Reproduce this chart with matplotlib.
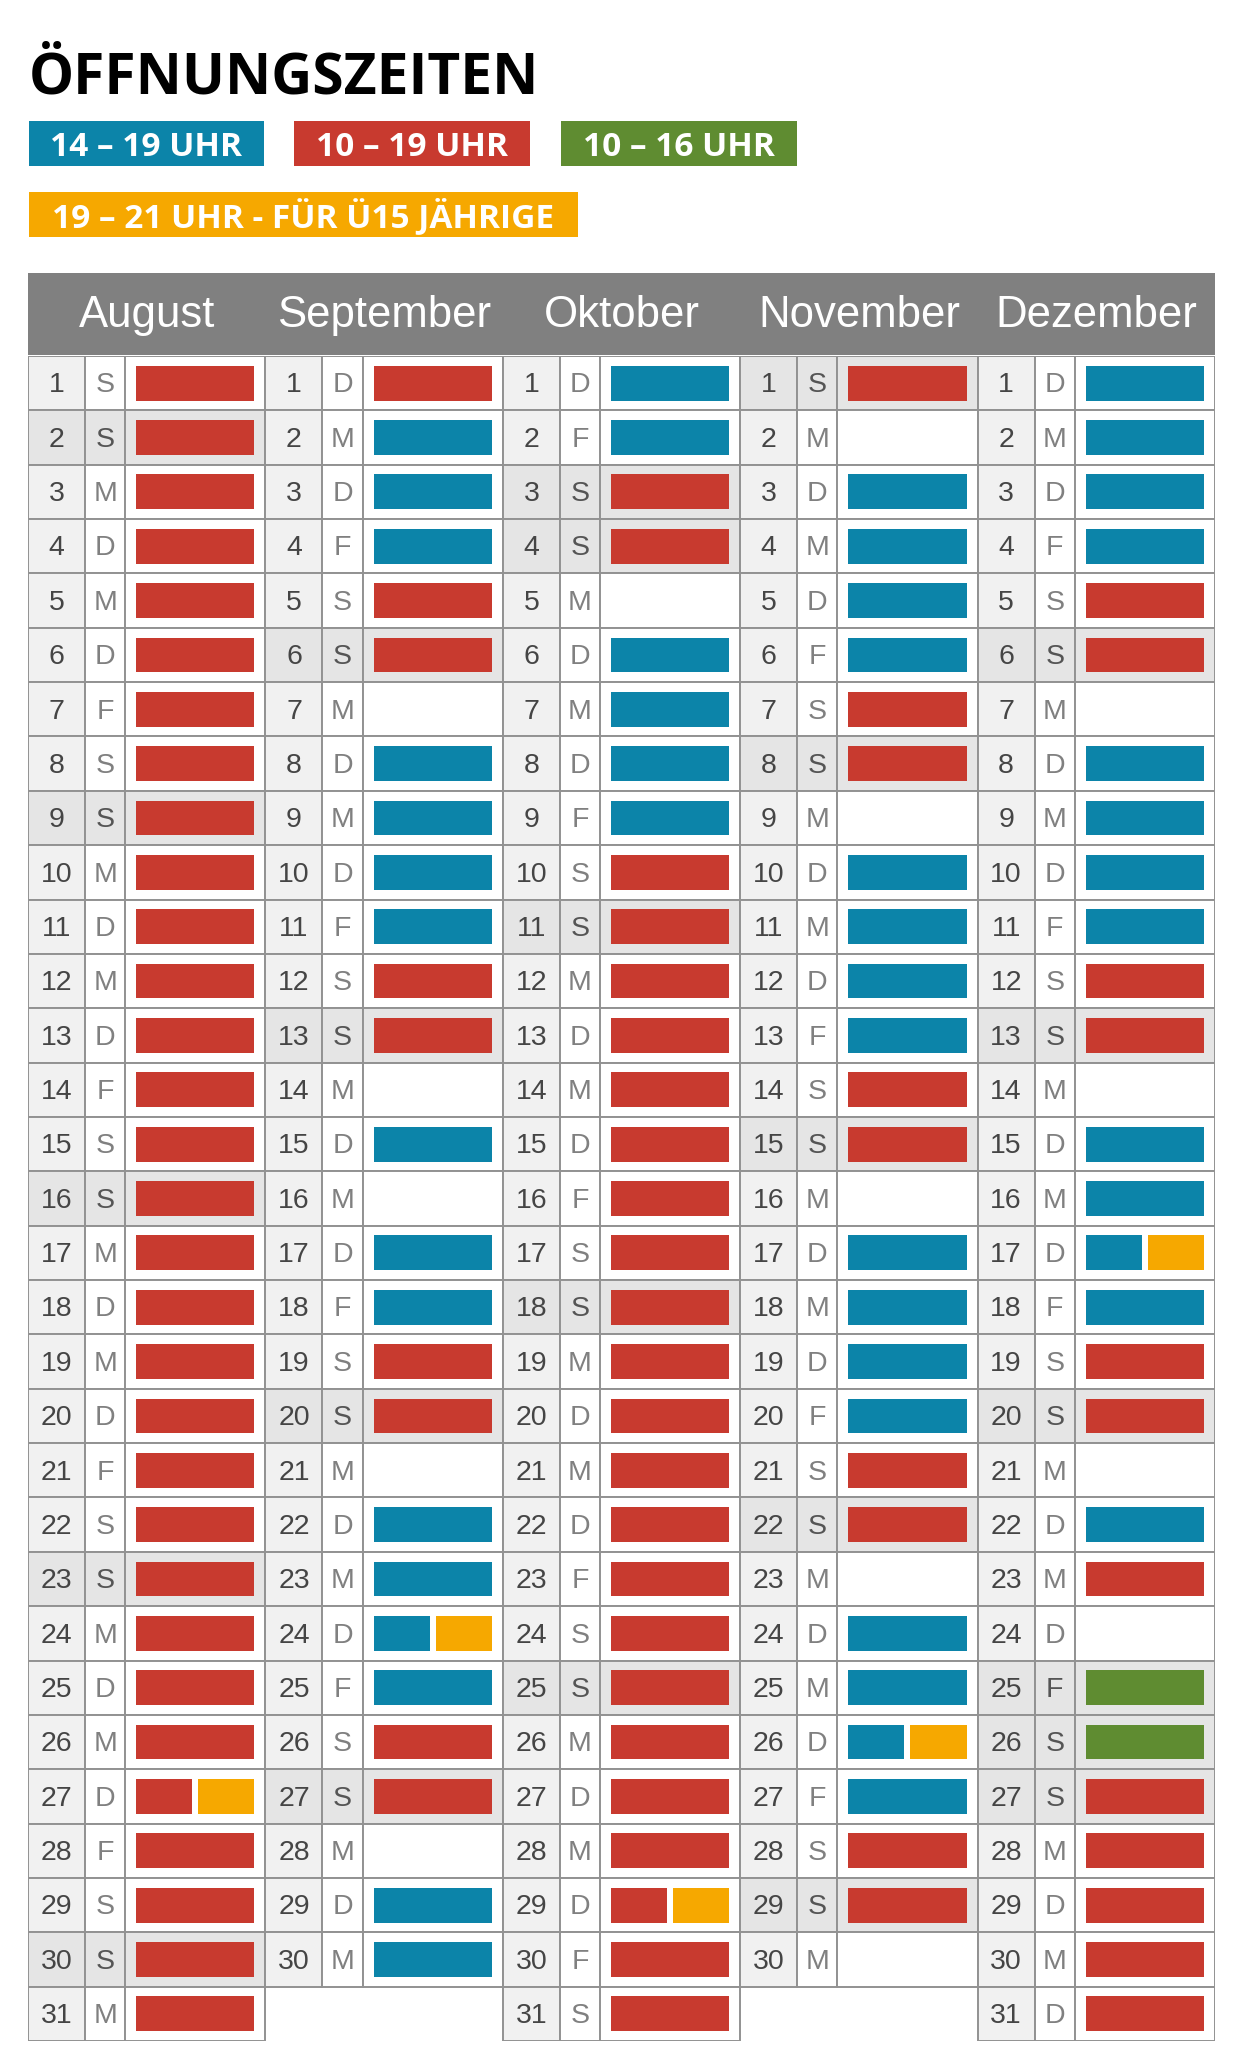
#Öffnungszeiten-Kalender August bis Dezember 2020
import datetime
import matplotlib
matplotlib.use('Agg')
import matplotlib.pyplot as plt
from matplotlib.patches import Rectangle

#daten
jahr = 2020
monate = ['August', 'September', 'Oktober', 'November', 'Dezember']
monat_nr = [8, 9, 10, 11, 12]
wochentage = ['M', 'D', 'M', 'D', 'F', 'S', 'S']
feiertage = [(10, 3), (12, 25), (12, 26)]  #zusaetzlich grau hinterlegt

#R = 10-19, B = 14-19, G = 10-16, O = zusaetzlich 19-21, - = geschlossen
aug = ('R R R R R R R R R R R R R R R R R R R R R R R R R R RO R R R R').split()
sep = ('R B B B R R - B B B B R R - B - B B R R - B B BO B R R - B B').split()
okt = ('B B R R - B B B B R R R R R R R R R R R R R R R R R R R RO R R').split()
nov = ('R - B B B B R R - B B B B R R - B B B B R R - B B BO B R R -').split()
dez = ('B B B B R R - B B B B R R - B B BO B R R - B R - G G R R R R R').split()
zeiten = [aug, sep, okt, nov, dez]

legende_text = ['14 – 19 UHR', '10 – 19 UHR', '10 – 16 UHR', '19 – 21 UHR - FÜR Ü15 JÄHRIGE']
legende_code = ['B', 'R', 'G', 'O']

farben = {'B': '#0c84a9', 'R': '#c83a2f', 'G': '#5f8c31', 'O': '#f6a800'}
grau_kopf = '#808080'
linie = '#929292'

W, H = 1240, 2067
fig = plt.figure(figsize=(W / 100, H / 100), dpi=100)

#achse in pixeln fuer titel, legende und kopfzeile
ax0 = fig.add_axes([0, 0, 1, 1])
ax0.set_xlim(0, W)
ax0.set_ylim(H, 0)
ax0.axis('off')

#titel, breite angepasst
t = ax0.text(29, 94, 'ÖFFNUNGSZEITEN', family='Open Sans', weight='bold',
             fontsize=40, color='black', va='baseline', ha='left')
fig.canvas.draw()
bb = t.get_window_extent()
t.set_fontsize(40 * 510 / bb.width)

#legende
boxen = [(29, 121, 235, 45), (294, 121, 236, 45), (561, 121, 236, 45), (29, 192, 549, 45)]
fig.canvas.draw()
for (x, y, w, h), txt, code in zip(boxen, legende_text, legende_code):
    ax0.add_patch(Rectangle((x, y), w, h, facecolor=farben[code], edgecolor='none'))
    ax0.text(x + w / 2, y + h - 9.5, txt, family='Open Sans', weight='bold',
             fontsize=24, color='white', ha='center', va='baseline')

#kopfzeile
tab_l, tab_r = 28, 1215
ax0.add_patch(Rectangle((tab_l, 273), tab_r - tab_l, 82, facecolor=grau_kopf, edgecolor='none'))
breite = (tab_r - tab_l) / len(monate)
for i, name in enumerate(monate):
    ax0.text(tab_l + breite * (i + 0.5), 327, name, family='Liberation Sans',
             fontsize=31.5, color='white', ha='center', va='baseline')

#tabelle: x in monaten, y in tagen
tab_o, tab_u = 356, 2041
ax = fig.add_axes([tab_l / W, (H - tab_u) / H, (tab_r - tab_l) / W, (tab_u - tab_o) / H])
ax.set_xlim(0, 5)
ax.set_ylim(31, 0)
ax.axis('off')

sp1 = 57 / 237   #ende tageszahl
sp2 = 97 / 237   #ende wochentag
rand_l = 11 / 237
rand_r = 11 / 237
luecke = 6 / 237

for m, (mon, tage) in enumerate(zip(monat_nr, zeiten)):
    for d, code in enumerate(tage):
        datum = datetime.date(jahr, mon, d + 1)
        wt = datum.weekday()
        grau = wt == 6 or (mon, d + 1) in feiertage
        bg_zahl = '#e5e5e5' if grau else '#f1f1f1'
        bg_rest = '#e5e5e5' if grau else 'white'
        ax.add_patch(Rectangle((m, d), sp1, 1, facecolor=bg_zahl, edgecolor=linie, lw=1.4))
        ax.add_patch(Rectangle((m + sp1, d), sp2 - sp1, 1, facecolor=bg_rest, edgecolor=linie, lw=1.4))
        ax.add_patch(Rectangle((m + sp2, d), 1 - sp2, 1, facecolor=bg_rest, edgecolor=linie, lw=1.4))
        ax.text(m + sp1 / 2, d + 0.67, str(d + 1), family='Liberation Sans', fontsize=20.5,
                color='#454545', ha='center', va='baseline')
        ax.text(m + (sp1 + sp2) / 2, d + 0.67, wochentage[wt], family='Liberation Sans', fontsize=20.5,
                color='#555555' if grau else '#808080', ha='center', va='baseline')
        if code == '-':
            continue
        x0 = m + sp2 + rand_l
        x1 = m + 1 - rand_r
        if len(code) == 1:
            ax.add_patch(Rectangle((x0, d + 0.18), x1 - x0, 0.64, facecolor=farben[code], edgecolor='none'))
        else:
            halb = (x1 - x0 - luecke) / 2
            ax.add_patch(Rectangle((x0, d + 0.18), halb, 0.64, facecolor=farben[code[0]], edgecolor='none'))
            ax.add_patch(Rectangle((x1 - halb, d + 0.18), halb, 0.64, facecolor=farben[code[1]], edgecolor='none'))

fig.savefig('out.png', dpi=100)
